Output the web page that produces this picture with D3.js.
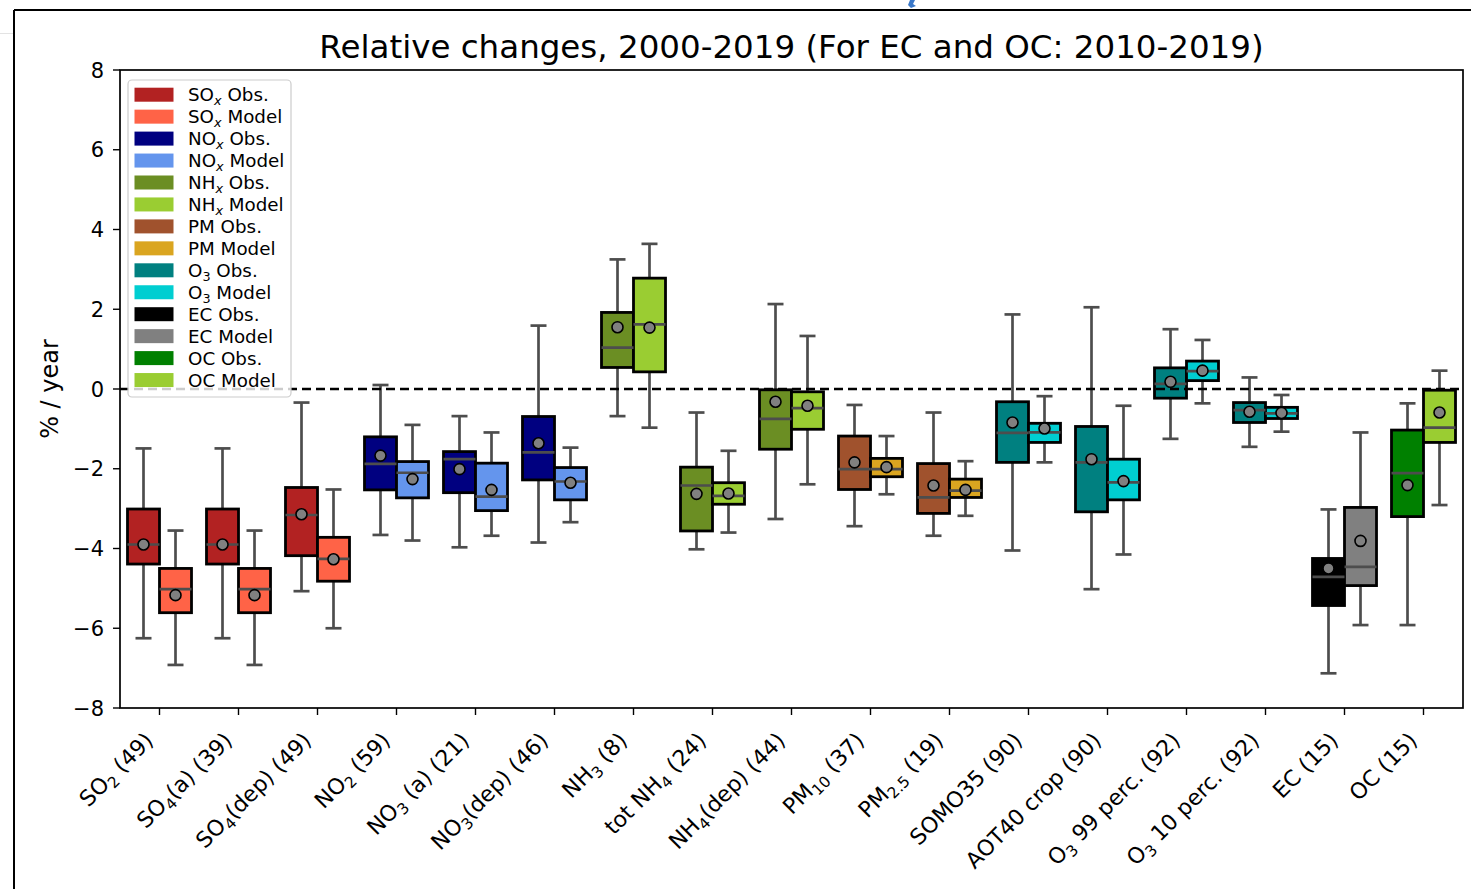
<!DOCTYPE html>
<html><head><meta charset="utf-8">
<script src="https://cdn.jsdelivr.net/npm/d3@7"></script>
<style>html,body{margin:0;padding:0;background:#fff;}svg{display:block;font-family:"DejaVu Sans",sans-serif;}</style>
</head><body>
<svg id="chart" width="1471" height="889"></svg>
<script>
// ---- data ----
const categories = ["SO_{2} (49)","SO_{4}(a) (39)","SO_{4}(dep) (49)","NO_{2} (59)","NO_{3} (a) (21)","NO_{3}(dep) (46)","NH_{3} (8)","tot NH_{4} (24)","NH_{4}(dep) (44)","PM_{10} (37)","PM_{2.5} (19)","SOMO35 (90)","AOT40 crop (90)","O_{3} 99 perc. (92)","O_{3} 10 perc. (92)","EC (15)","OC (15)"];
const groupOf = [0,0,0,1,1,1,2,2,2,3,3,4,4,4,4,5,6];
const obsColors   = ["#b22222","#000080","#6b8e23","#a0522d","#008080","#000000","#008000"];
const modelColors = ["#ff6347","#6495ed","#9acd32","#daa520","#00ced1","#808080","#9acd32"];
const legendLabels = ["SO_{x} Obs.","SO_{x} Model","NO_{x} Obs.","NO_{x} Model","NH_{x} Obs.","NH_{x} Model","PM Obs.","PM Model","O_{3} Obs.","O_{3} Model","EC Obs.","EC Model","OC Obs.","OC Model"];
const legendColors = ["#b22222","#ff6347","#000080","#6495ed","#6b8e23","#9acd32","#a0522d","#daa520","#008080","#00ced1","#000000","#808080","#008000","#9acd32"];
const yTicks = [-8,-6,-4,-2,0,2,4,6,8];

// observations: whisker high, Q3, median, mean, Q1, whisker low
const obsWhiskerHigh = [-1.49,-1.49,-0.34,0.10,-0.68,1.59,3.25,-0.59,2.13,-0.40,-0.59,1.87,2.05,1.50,0.29,-3.02,-0.36];
const obsQ3          = [-3.01,-3.01,-2.47,-1.20,-1.57,-0.69,1.92,-1.96,-0.02,-1.18,-1.87,-0.32,-0.94,0.53,-0.34,-4.25,-1.03];
const obsMedian      = [-3.90,-3.90,-3.16,-1.88,-1.76,-1.59,1.04,-2.42,-0.75,-2.01,-2.72,-1.10,-1.84,0.13,-0.53,-4.71,-2.11];
const obsMean        = [-3.90,-3.90,-3.14,-1.67,-2.01,-1.36,1.55,-2.63,-0.32,-1.84,-2.42,-0.84,-1.76,0.18,-0.57,-4.50,-2.41];
const obsQ1          = [-4.39,-4.39,-4.18,-2.53,-2.60,-2.28,0.54,-3.56,-1.51,-2.52,-3.12,-1.84,-3.08,-0.23,-0.84,-5.43,-3.20];
const obsWhiskerLow  = [-6.25,-6.25,-5.07,-3.66,-3.97,-3.85,-0.68,-4.02,-3.26,-3.44,-3.68,-4.05,-5.02,-1.25,-1.45,-7.13,-5.92];
// model
const modWhiskerHigh = [-3.55,-3.55,-2.52,-0.90,-1.09,-1.47,3.64,-1.55,1.33,-1.18,-1.81,-0.18,-0.42,1.23,-0.15,-1.09,0.46];
const modQ3          = [-4.50,-4.50,-3.72,-1.82,-1.86,-1.97,2.78,-2.35,-0.07,-1.74,-2.26,-0.86,-1.76,0.70,-0.46,-2.97,-0.03];
const modMedian      = [-5.02,-5.02,-4.26,-2.10,-2.70,-2.32,1.62,-2.68,-0.48,-2.01,-2.55,-1.09,-2.34,0.45,-0.61,-4.46,-0.97];
const modMean        = [-5.17,-5.17,-4.27,-2.26,-2.53,-2.35,1.54,-2.62,-0.42,-1.96,-2.53,-0.99,-2.31,0.46,-0.60,-3.81,-0.59];
const modQ1          = [-5.61,-5.61,-4.82,-2.73,-3.05,-2.78,0.43,-2.89,-1.01,-2.20,-2.72,-1.34,-2.78,0.21,-0.74,-4.93,-1.34];
const modWhiskerLow  = [-6.92,-6.92,-6.00,-3.80,-3.68,-3.34,-0.97,-3.60,-2.39,-2.64,-3.18,-1.84,-4.15,-0.36,-1.07,-5.92,-2.91];

// ---- layout ----
const svg = d3.select("#chart");
const L = 120, R = 1463, T = 70, B = 708;
const x = d3.scaleBand().domain(d3.range(categories.length)).range([L, R]).padding(0);
const y = d3.scaleLinear().domain([-8, 8]).range([B, T]);
const boxW = 32, capW = 16;
const whiskColor = "#4d4d4d";

// screenshot frame
svg.append("line").attr("x1",0).attr("x2",14).attr("y1",33.5).attr("y2",33.5).attr("stroke","#e3e3e3").attr("stroke-width",1);
svg.append("line").attr("x1",14).attr("x2",1471).attr("y1",10).attr("y2",10).attr("stroke","#000").attr("stroke-width",2);
svg.append("line").attr("x1",14).attr("x2",14).attr("y1",10).attr("y2",889).attr("stroke","#000").attr("stroke-width",2);
svg.append("path").attr("d","M910,0 L915,0 L913,4 L916,6 L911,8 L908,5 Z").attr("fill","#3a78c9");

function richText(sel, str, size) {
  const parts = str.split(/(_\{[^}]*\})/).filter(s => s.length);
  const subSize = size * 0.7, shift = size * 0.22;
  let pendingUp = 0;
  parts.forEach(p => {
    if (p.startsWith("_{")) {
      const s = p.slice(2, -1);
      const t = sel.append("tspan").attr("font-size", subSize).attr("dy", shift).text(s);
      if (/^[a-z]$/i.test(s)) t.attr("font-style", "italic");
      pendingUp = shift;
    } else {
      const t = sel.append("tspan").attr("font-size", size).text(p);
      if (pendingUp) { t.attr("dy", -pendingUp); pendingUp = 0; }
    }
  });
}

// title
svg.append("text").attr("x", (L + R) / 2).attr("y", 58).attr("text-anchor", "middle")
  .attr("font-size", 32.5).attr("fill", "#000").text("Relative changes, 2000-2019 (For EC and OC: 2010-2019)");

// y axis label
svg.append("text").attr("transform", `translate(58,${y(0)}) rotate(-90)`).attr("text-anchor", "middle")
  .attr("font-size", 24).text("% / year");

// y ticks
yTicks.forEach(v => {
  svg.append("line").attr("x1", L - 7).attr("x2", L).attr("y1", y(v)).attr("y2", y(v)).attr("stroke", "#000").attr("stroke-width", 1.4);
  svg.append("text").attr("x", L - 16).attr("y", y(v) + 7.5).attr("text-anchor", "end").attr("font-size", 21)
    .text(v < 0 ? "\u2212" + Math.abs(v) : String(v));
});

// x ticks
categories.forEach((c, i) => {
  const cx = x(i) + x.bandwidth() / 2;
  svg.append("line").attr("x1", cx).attr("x2", cx).attr("y1", B).attr("y2", B + 7).attr("stroke", "#000").attr("stroke-width", 1.4);
  const t = svg.append("text").attr("transform", `translate(${cx - 5},${B + 34}) rotate(-45)`)
    .attr("text-anchor", "end").attr("font-size", 22).attr("fill", "#000");
  richText(t, c, 22);
});

// boxes
const gWh = svg.append("g"), gBox = svg.append("g"), gLines = svg.append("g");
function drawBox(i, offset, hi, q3, med, mean, q1, lo, color) {
  const cx = x(i) + x.bandwidth() / 2 + offset;
  gWh.append("line").attr("x1", cx).attr("x2", cx).attr("y1", y(hi)).attr("y2", y(q3)).attr("stroke", whiskColor).attr("stroke-width", 2.7);
  gWh.append("line").attr("x1", cx).attr("x2", cx).attr("y1", y(q1)).attr("y2", y(lo)).attr("stroke", whiskColor).attr("stroke-width", 2.7);
  gWh.append("line").attr("x1", cx - capW / 2).attr("x2", cx + capW / 2).attr("y1", y(hi)).attr("y2", y(hi)).attr("stroke", whiskColor).attr("stroke-width", 2.7);
  gWh.append("line").attr("x1", cx - capW / 2).attr("x2", cx + capW / 2).attr("y1", y(lo)).attr("y2", y(lo)).attr("stroke", whiskColor).attr("stroke-width", 2.7);
  gBox.append("rect").attr("x", cx - boxW / 2).attr("y", y(q3)).attr("width", boxW).attr("height", y(q1) - y(q3))
    .attr("fill", color).attr("stroke", "#000").attr("stroke-width", 2.8);
  gLines.append("line").attr("x1", cx - boxW / 2).attr("x2", cx + boxW / 2).attr("y1", y(med)).attr("y2", y(med)).attr("stroke", whiskColor).attr("stroke-width", 2.7);
  gLines.append("circle").attr("cx", cx).attr("cy", y(mean)).attr("r", 5.5).attr("fill", "#808080").attr("stroke", "#000").attr("stroke-width", 1.6);
}
categories.forEach((c, i) => {
  drawBox(i, -boxW / 2, obsWhiskerHigh[i], obsQ3[i], obsMedian[i], obsMean[i], obsQ1[i], obsWhiskerLow[i], obsColors[groupOf[i]]);
  drawBox(i, boxW / 2, modWhiskerHigh[i], modQ3[i], modMedian[i], modMean[i], modQ1[i], modWhiskerLow[i], modelColors[groupOf[i]]);
});

// zero line
svg.append("line").attr("x1", L).attr("x2", R).attr("y1", y(0)).attr("y2", y(0))
  .attr("stroke", "#000").attr("stroke-width", 2.6).attr("stroke-dasharray", "9,5");

// frame
svg.append("rect").attr("x", L).attr("y", T).attr("width", R - L).attr("height", B - T)
  .attr("fill", "none").attr("stroke", "#000").attr("stroke-width", 1.7);

// legend
const lg = svg.append("g");
lg.append("rect").attr("x", 128).attr("y", 80).attr("width", 163).attr("height", 317).attr("rx", 4)
  .attr("fill", "#fff").attr("fill-opacity", 0.8).attr("stroke", "#cccccc").attr("stroke-width", 1.2);
legendLabels.forEach((lab, k) => {
  const cy = 94.7 + k * 21.95;
  lg.append("rect").attr("x", 134.5).attr("y", cy - 7).attr("width", 39).attr("height", 14).attr("fill", legendColors[k]);
  const t = lg.append("text").attr("x", 188).attr("y", cy + 6.5).attr("font-size", 18.3).attr("fill", "#000");
  richText(t, lab, 18.3);
});
</script>
</body></html>
